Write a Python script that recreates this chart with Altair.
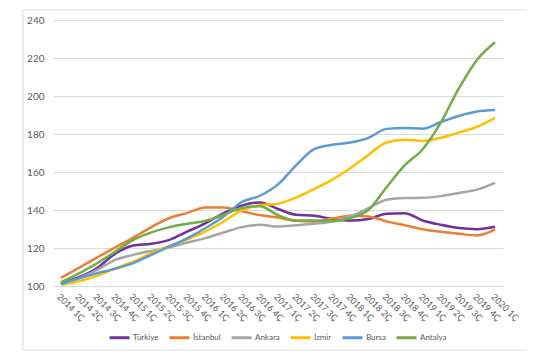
import altair as alt
import pandas as pd

quarters = [
    "2014 1Ç", "2014 2Ç", "2014 3Ç", "2014 4Ç",
    "2015 1Ç", "2015 2Ç", "2015 3Ç", "2015 4Ç",
    "2016 1Ç", "2016 2Ç", "2016 3Ç", "2016 4Ç",
    "2017 1Ç", "2017 2Ç", "2017 3Ç", "2017 4Ç",
    "2018 1Ç", "2018 2Ç", "2018 3Ç", "2018 4Ç",
    "2019 1Ç", "2019 2Ç", "2019 3Ç", "2019 4Ç",
    "2020 1Ç",
]

series_names = ["Türkiye", "İstanbul", "Ankara", "İzmir", "Bursa", "Antalya"]
series_colors = ["#7030A0", "#ED7D31", "#A5A5A5", "#FFC000", "#5B9BD5", "#70AD47"]

turkiye = [101.4, 104.6, 109.5, 117.0, 121.3, 122.2, 124.3, 128.7, 133.1, 138.4, 142.3, 144.0,
           140.5, 137.5, 137.0, 135.3, 134.5, 135.3, 138.0, 138.3, 134.5, 132.2, 130.5, 129.9, 131.2]
istanbul = [104.3, 109.6, 115.0, 120.3, 125.5, 131.0, 135.8, 138.5, 141.3, 141.3, 139.3, 137.3,
            136.0, 134.3, 134.0, 135.5, 137.0, 136.6, 134.0, 132.0, 129.9, 128.6, 127.5, 126.6, 129.8]
ankara = [101.0, 104.0, 108.5, 113.8, 116.4, 118.5, 120.4, 122.9, 125.2, 128.2, 131.0, 132.2,
          131.3, 132.0, 132.8, 134.0, 136.6, 141.0, 145.4, 146.3, 146.4, 147.3, 149.0, 150.7, 154.3]
izmir = [100.6, 102.5, 105.3, 109.3, 112.8, 117.3, 121.1, 124.5, 128.7, 134.0, 139.8, 142.5,
         143.3, 146.5, 151.0, 156.0, 162.0, 169.0, 175.5, 177.0, 176.3, 178.0, 180.8, 183.8, 188.5]
bursa = [101.0, 104.0, 106.7, 109.0, 112.0, 116.4, 120.8, 125.2, 130.5, 136.6, 144.2, 147.5,
         153.5, 163.5, 172.0, 174.3, 175.5, 178.0, 182.7, 183.2, 182.8, 186.3, 189.5, 191.8, 192.6]
antalya = [102.0, 106.7, 112.0, 118.1, 124.3, 128.2, 131.0, 132.8, 134.3, 137.5, 141.0, 142.0,
           137.3, 134.5, 134.5, 134.2, 135.8, 140.0, 152.0, 163.5, 172.0, 186.0, 204.0, 219.0, 228.3]

y_ticks = [100, 120, 140, 160, 180, 200, 220, 240]

rows = []
for name, vals in zip(series_names, [turkiye, istanbul, ankara, izmir, bursa, antalya]):
    for q, v in zip(quarters, vals):
        rows.append({"Dönem": q, "Bölge": name, "Endeks": v})
df = pd.DataFrame(rows)

FONT = "Lato"
TXT = "#595959"
FRAME = "#d9d9d9"

lines = alt.Chart(df).mark_line(strokeWidth=2.5, interpolate="monotone").encode(
    x=alt.X("Dönem:N", sort=quarters,
            scale=alt.Scale(type="point", padding=0.44),
            axis=alt.Axis(title=None, labelAngle=45, domain=False, ticks=False, grid=False,
                          labelFontSize=9, labelColor=TXT, labelFont=FONT, labelPadding=6)),
    y=alt.Y("Endeks:Q",
            scale=alt.Scale(domain=[100, 240], nice=False, zero=False),
            axis=alt.Axis(title=None, values=y_ticks, grid=True, gridColor=FRAME, gridWidth=1,
                          domain=False, ticks=False, labelPadding=9, labelFontSize=10,
                          labelColor=TXT, labelFont=FONT)),
    color=alt.Color("Bölge:N", sort=series_names,
                    scale=alt.Scale(domain=series_names, range=series_colors),
                    legend=alt.Legend(title=None, orient="none", legendX=55, legendY=306,
                                      direction="horizontal", symbolType="stroke",
                                      symbolSize=400, symbolStrokeWidth=3,
                                      labelFontSize=8, labelColor=TXT, labelFont=FONT,
                                      columnPadding=4, labelOffset=2)),
)

frame_data = alt.Data(values=[{"k": 1}])
frame_top = alt.Chart(frame_data).mark_rule(color=FRAME, strokeWidth=1).encode(
    x=alt.value(-30), x2=alt.value(474), y=alt.value(-10))
frame_left = alt.Chart(frame_data).mark_rule(color=FRAME, strokeWidth=1).encode(
    x=alt.value(-30), y=alt.value(-10), y2=alt.value(330))
frame_bottom = alt.Chart(frame_data).mark_rule(color=FRAME, strokeWidth=1).encode(
    x=alt.value(-30), x2=alt.value(474), y=alt.value(330))

chart = alt.layer(frame_top, frame_left, frame_bottom, lines).properties(
    width=450, height=266,
    padding={"left": 45, "top": 12, "right": 40, "bottom": 69},
    autosize=alt.AutoSizeParams(type="none"),
    background="white",
).configure_view(stroke=None)

chart.save("out.html", embed_options={"renderer": "svg", "actions": False})
